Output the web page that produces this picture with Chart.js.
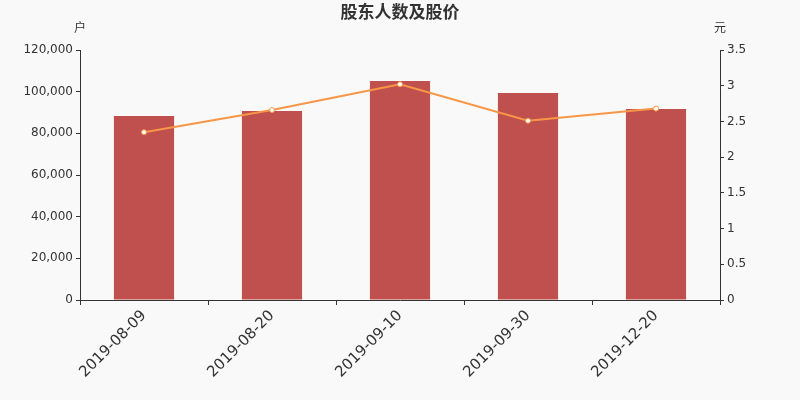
<!DOCTYPE html>
<html>
<head>
<meta charset="utf-8">
<script src="https://cdn.jsdelivr.net/npm/chart.js@4/dist/chart.umd.min.js"></script>
<style>
    html, body { margin: 0; padding: 0; background: #f9f9f9; }
    #holdersChart { display: block; }
</style>
</head>
<body>
<canvas id="holdersChart" width="800" height="400"></canvas>
<script>
const dates = ['2019-08-09', '2019-08-20', '2019-09-10', '2019-09-30', '2019-12-20'];
const holders = [88300, 90700, 105100, 99400, 91700];
const prices = [2.35, 2.66, 3.02, 2.51, 2.68];

const titleText = '股东人数及股价';
const leftUnit = '户';
const rightUnit = '元';

const axisColor = '#333333';
const barColor = '#c0504d';
const lineColor = '#f79646';
const fontFamily = '"DejaVu Sans", "Noto Sans CJK SC", sans-serif';

// title and unit labels above the axes
const chartTitles = {
    id: 'chartTitles',
    afterDraw(chart) {
        const ctx = chart.ctx;
        const area = chart.chartArea;
        ctx.save();
        ctx.fillStyle = axisColor;
        ctx.textAlign = 'center';
        ctx.textBaseline = 'middle';
        ctx.font = 'bold 17px ' + fontFamily;
        ctx.fillText(titleText, chart.width / 2, 14);
        ctx.font = '12px ' + fontFamily;
        ctx.fillText(leftUnit, area.left, 29);
        ctx.fillText(rightUnit, area.right, 29);
        ctx.restore();
    },
};

new Chart(document.getElementById('holdersChart'), {
    type: 'bar',
    data: {
        labels: dates,
        datasets: [
            {
                type: 'line',
                label: '股价',
                data: prices,
                yAxisID: 'y1',
                borderColor: lineColor,
                borderWidth: 2,
                pointRadius: 2.5,
                pointBackgroundColor: '#ffffff',
                pointBorderColor: lineColor,
                pointBorderWidth: 1,
                tension: 0,
                order: 0,
            },
            {
                label: '股东人数',
                data: holders,
                yAxisID: 'y',
                backgroundColor: barColor,
                barPercentage: 0.94,
                categoryPercentage: 0.5,
                order: 1,
            },
        ],
    },
    options: {
        responsive: false,
        animation: false,
        maintainAspectRatio: false,
        layout: { padding: { top: 50, left: 0, right: 0, bottom: 0 } },
        scales: {
            x: {
                grid: {
                    display: true,
                    drawOnChartArea: false,
                    drawTicks: true,
                    tickLength: 5,
                    color: axisColor,
                },
                border: { color: axisColor, width: 1 },
                ticks: {
                    color: axisColor,
                    font: { family: fontFamily, size: 15 },
                    maxRotation: 45,
                    minRotation: 45,
                    padding: 2,
                    autoSkip: false,
                },
                afterFit(scale) { scale.height = 100; },
            },
            y: {
                position: 'left',
                min: 0,
                max: 120000,
                grid: {
                    display: true,
                    drawOnChartArea: false,
                    tickLength: 4,
                    color: axisColor,
                },
                border: { color: axisColor, width: 1 },
                ticks: {
                    stepSize: 20000,
                    color: axisColor,
                    font: { family: fontFamily, size: 12 },
                    padding: 3,
                    callback: (v) => v.toLocaleString('en-US'),
                },
                afterFit(scale) { scale.width = 80; },
            },
            y1: {
                position: 'right',
                min: 0,
                max: 3.5,
                grid: {
                    display: true,
                    drawOnChartArea: false,
                    tickLength: 4,
                    color: axisColor,
                },
                border: { color: axisColor, width: 1 },
                ticks: {
                    stepSize: 0.5,
                    color: axisColor,
                    font: { family: fontFamily, size: 12 },
                    padding: 3,
                    callback: (v) => String(v),
                },
                afterFit(scale) { scale.width = 80; },
            },
        },
        plugins: {
            legend: { display: false },
            tooltip: { enabled: false },
        },
    },
    plugins: [chartTitles],
});
</script>
</body>
</html>
